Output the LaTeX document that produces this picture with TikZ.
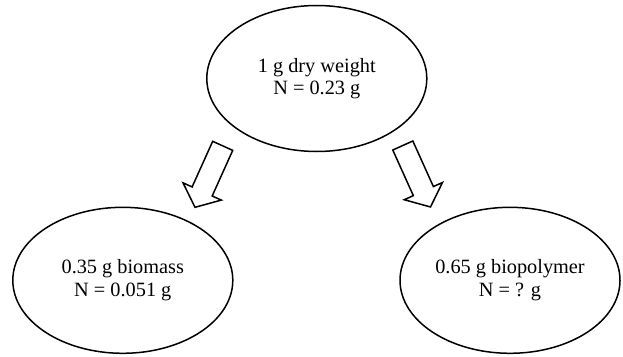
\documentclass[tikz,border=0pt]{standalone}
\usepackage{fontspec}
\setmainfont{Liberation Serif}
\usetikzlibrary{shapes.geometric}
\begin{document}
\begin{tikzpicture}[x=1pt,y=-1pt,
  oval/.style={ellipse,draw,line width=1.5pt,minimum width=220pt,minimum height=146pt,inner sep=0pt,align=center,font=\fontsize{20.3}{22.5}\selectfont},
  blockarrow/.style={draw,line width=1.5pt,line join=miter,fill=white}]
\useasboundingbox (0,0) rectangle (623,356);
\node[oval] (dry) at (316.8,78.5) {1 g dry weight\\N = 0.23 g};
\node[oval] (bio) at (122.8,280.3) {0.35 g biomass\\N = 0.051 g};
\node[oval] (poly) at (510,280.3) {0.65 g biopolymer\\N = ? g};
\draw[blockarrow] (212.67,141.33) -- (192.12,186.93) -- (183.0,182.82) -- (195.0,207.32) -- (221.3,200.08) -- (212.18,195.97) -- (232.73,150.37) -- cycle;
\draw[blockarrow] (392.77,150.02) -- (413.32,195.62) -- (404.2,199.73) -- (430.5,206.97) -- (442.5,182.47) -- (433.38,186.58) -- (412.83,140.98) -- cycle;
\end{tikzpicture}
\end{document}
